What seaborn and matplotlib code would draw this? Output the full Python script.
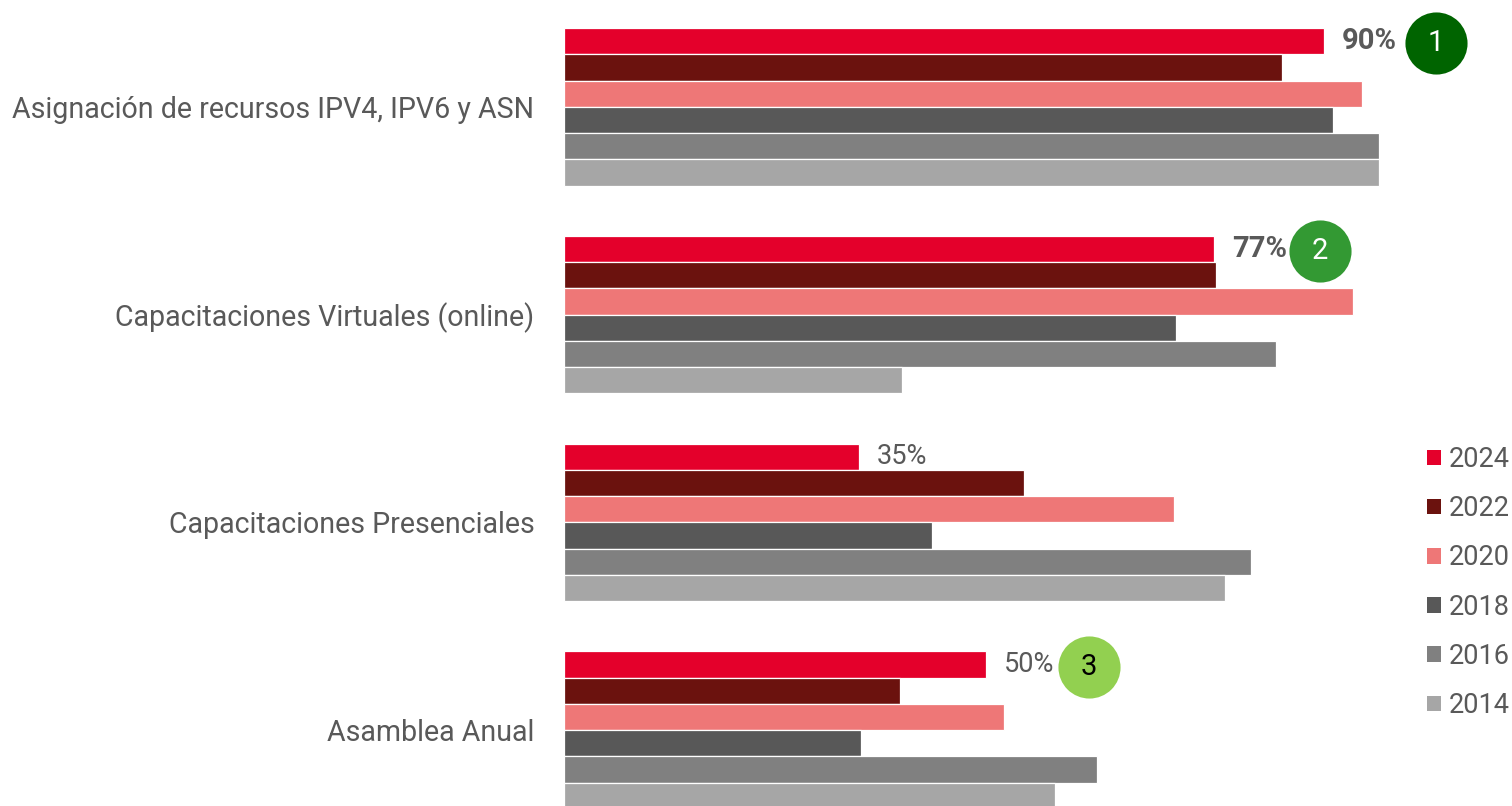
import matplotlib
matplotlib.use("Agg")
import matplotlib.pyplot as plt
import matplotlib.transforms as mtransforms
from matplotlib.patches import Patch
import seaborn as sns
import pandas as pd

categories = ["Asignación de recursos IPV4, IPV6 y ASN",
              "Capacitaciones Virtuales (online)",
              "Capacitaciones Presenciales",
              "Asamblea Anual"]
years = ["2024", "2022", "2020", "2018", "2016", "2014"]
v2024 = [90, 77, 35, 50]
v2022 = [85.1, 77.2, 54.5, 39.8]
v2020 = [94.5, 93.5, 72.3, 52.1]
v2018 = [91.1, 72.5, 43.6, 35.2]
v2016 = [96.5, 84.3, 81.4, 63.2]
v2014 = [96.5, 40.1, 78.3, 58.2]
label_texts = ["90%", "77%", "35%", "50%"]
label_bold = [True, True, False, False]
badge_texts = ["1", "2", None, "3"]

colors = ["#E4002B", "#6B120E", "#EE7777", "#585858", "#808080", "#A6A6A6"]
badge_colors = ["#006400", "#339933", None, "#92D050"]
badge_text_colors = ["white", "white", None, "black"]
badge_offsets_px = [112, 106, None, 103]

series = [v2024, v2022, v2020, v2018, v2016, v2014]
rows = []
for y, vals in zip(years, series):
    for c, v in zip(categories, vals):
        rows.append({"category": c, "year": y, "value": v})
df = pd.DataFrame(rows)

sns.set_theme(style="white")
plt.rcParams["font.family"] = ["Roboto", "DejaVu Sans"]
TXT = "#595959"

fig = plt.figure(figsize=(15.12, 8.06), dpi=100)
ax = fig.add_axes([563.5 / 1512, 0.0, 844.7 / 1512, 1.0])
sns.barplot(data=df, x="value", y="category", hue="year", hue_order=years,
            order=categories, palette=colors, saturation=1, width=0.758, orient="h",
            edgecolor="white", linewidth=0.9, legend=False, ax=ax)
ax.set_xlim(0, 100)
ax.set_ylim(3.365, -0.515)
ax.set_xlabel("")
ax.set_ylabel("")
ax.set_xticks([])
for s in ax.spines.values():
    s.set_visible(False)
ax.tick_params(axis="y", length=0, pad=21, labelsize=20.6, labelcolor=TXT)

# value labels and badges on the 2024 bars
first = ax.containers[0]
for i, bar in enumerate(first.patches):
    xend = bar.get_x() + bar.get_width()
    yc = bar.get_y() + bar.get_height() / 2
    ax.annotate(label_texts[i], (xend, yc), xytext=(13, 0), textcoords="offset points",
                ha="left", va="center", fontsize=21 if label_bold[i] else 19.5,
                fontweight="bold" if label_bold[i] else "normal", color=TXT)
    if badge_texts[i] is not None:
        tr = ax.transData + mtransforms.ScaledTranslation(badge_offsets_px[i] / 100, 0, fig.dpi_scale_trans)
        ax.scatter([xend], [yc + 0.01], s=2000, color=badge_colors[i], transform=tr,
                   clip_on=False, zorder=5, linewidths=0)
        ax.text(xend, yc + 0.01, badge_texts[i], transform=tr, ha="center", va="center",
                fontsize=21, color=badge_text_colors[i], zorder=6)

handles = [Patch(facecolor=c, edgecolor="none", label=y) for c, y in zip(colors, years)]
fig.legend(handles=handles, loc="center left", bbox_to_anchor=(1427 / 1512, 1 - 582.5 / 806),
           frameon=False, fontsize=19.5, labelcolor=TXT, handlelength=0.5, handleheight=0.5,
           handletextpad=0.3, labelspacing=0.82, borderpad=0, borderaxespad=0)

fig.savefig("out.png", dpi=100)
